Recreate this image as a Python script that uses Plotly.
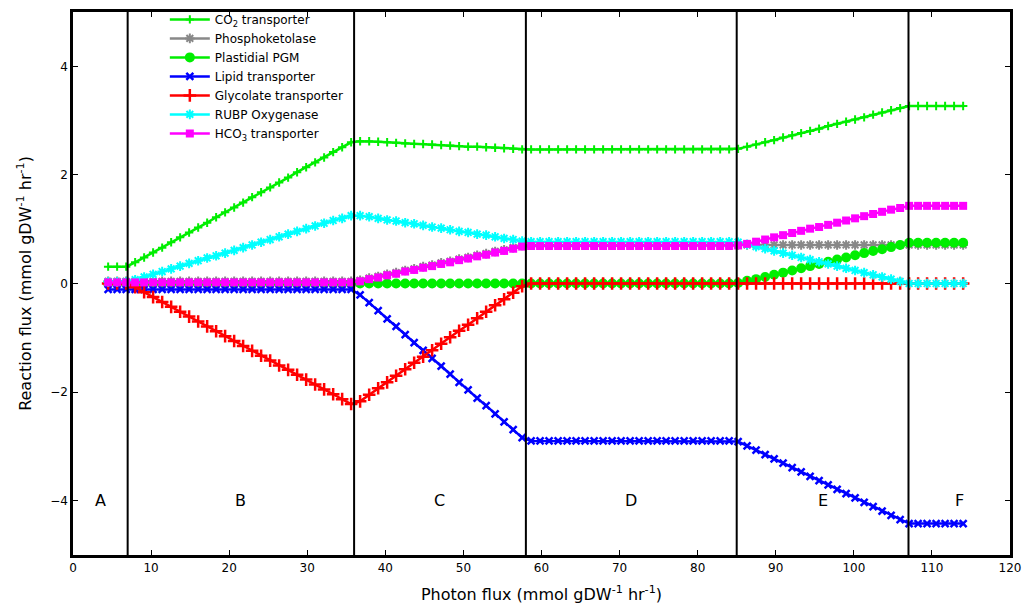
import plotly.graph_objects as go

# ---------------- data ----------------
photon_flux = [
    4.50, 5.65, 6.81, 7.96, 9.11, 10.26, 11.42, 12.57, 13.72, 14.87,
    16.03, 17.18, 18.33, 19.48, 20.64, 21.79, 22.94, 24.09, 25.25, 26.40,
    27.55, 28.70, 29.86, 31.01, 32.16, 33.32, 34.47, 35.62, 36.77, 37.93,
    39.08, 40.23, 41.38, 42.54, 43.69, 44.84, 45.99, 47.15, 48.30, 49.45,
    50.60, 51.76, 52.91, 54.06, 55.21, 56.37, 57.52, 58.67, 59.82, 60.97,
    62.13, 63.28, 64.43, 65.58, 66.74, 67.89, 69.04, 70.19, 71.35, 72.50,
    73.66, 74.81, 75.96, 77.11, 78.27, 79.42, 80.57, 81.72, 82.88, 84.03,
    85.18, 86.33, 87.48, 88.64, 89.79, 90.94, 92.10, 93.25, 94.40, 95.55,
    96.71, 97.86, 99.01, 100.16, 101.32, 102.47, 103.62, 104.77, 105.93, 107.08,
    108.23, 109.38, 110.54, 111.69, 112.84, 114.00,
]

co2_transporter = [
    0.31, 0.31, 0.31, 0.39, 0.48, 0.57, 0.66, 0.76, 0.85, 0.94,
    1.03, 1.12, 1.22, 1.31, 1.40, 1.49, 1.59, 1.68, 1.77, 1.86,
    1.95, 2.05, 2.14, 2.23, 2.32, 2.42, 2.51, 2.60, 2.62, 2.62,
    2.61, 2.60, 2.59, 2.58, 2.57, 2.57, 2.56, 2.55, 2.54, 2.53,
    2.52, 2.52, 2.51, 2.50, 2.49, 2.48, 2.47, 2.47, 2.47, 2.47,
    2.47, 2.47, 2.47, 2.47, 2.47, 2.47, 2.47, 2.47, 2.47, 2.47,
    2.47, 2.47, 2.47, 2.47, 2.47, 2.47, 2.47, 2.47, 2.47, 2.47,
    2.48, 2.52, 2.56, 2.60, 2.64, 2.69, 2.73, 2.77, 2.81, 2.85,
    2.90, 2.94, 2.98, 3.02, 3.06, 3.11, 3.15, 3.19, 3.23, 3.27,
    3.27, 3.27, 3.27, 3.27, 3.27, 3.27,
]

phosphoketolase = [
    0.04, 0.04, 0.04, 0.04, 0.04, 0.04, 0.04, 0.04, 0.04, 0.04,
    0.04, 0.04, 0.04, 0.04, 0.04, 0.04, 0.04, 0.04, 0.04, 0.04,
    0.04, 0.04, 0.04, 0.04, 0.04, 0.04, 0.04, 0.04, 0.06, 0.10,
    0.13, 0.17, 0.20, 0.24, 0.27, 0.31, 0.34, 0.38, 0.41, 0.45,
    0.48, 0.52, 0.55, 0.59, 0.62, 0.66, 0.70, 0.71, 0.71, 0.71,
    0.71, 0.71, 0.71, 0.71, 0.71, 0.71, 0.71, 0.71, 0.71, 0.71,
    0.71, 0.71, 0.71, 0.71, 0.71, 0.71, 0.71, 0.71, 0.71, 0.71,
    0.71, 0.71, 0.71, 0.71, 0.71, 0.71, 0.71, 0.71, 0.71, 0.71,
    0.71, 0.71, 0.71, 0.71, 0.71, 0.71, 0.71, 0.71, 0.71, 0.71,
    0.71, 0.71, 0.71, 0.71, 0.71, 0.71,
]

plastidial_pgm = [
    0.00, 0.00, 0.00, 0.00, 0.00, 0.00, 0.00, 0.00, 0.00, 0.00,
    0.00, 0.00, 0.00, 0.00, 0.00, 0.00, 0.00, 0.00, 0.00, 0.00,
    0.00, 0.00, 0.00, 0.00, 0.00, 0.00, 0.00, 0.00, 0.00, 0.00,
    0.00, 0.00, 0.00, 0.00, 0.00, 0.00, 0.00, 0.00, 0.00, 0.00,
    0.00, 0.00, 0.00, 0.00, 0.00, 0.00, 0.00, 0.00, 0.00, 0.00,
    0.00, 0.00, 0.00, 0.00, 0.00, 0.00, 0.00, 0.00, 0.00, 0.00,
    0.00, 0.00, 0.00, 0.00, 0.00, 0.00, 0.00, 0.00, 0.00, 0.00,
    0.01, 0.05, 0.08, 0.12, 0.16, 0.20, 0.24, 0.28, 0.32, 0.36,
    0.40, 0.44, 0.48, 0.52, 0.56, 0.60, 0.63, 0.67, 0.71, 0.75,
    0.75, 0.75, 0.75, 0.75, 0.75, 0.75,
]

lipid_transporter = [
    -0.11, -0.11, -0.11, -0.11, -0.11, -0.11, -0.11, -0.11, -0.11, -0.11,
    -0.11, -0.11, -0.11, -0.11, -0.11, -0.11, -0.11, -0.11, -0.11, -0.11,
    -0.11, -0.11, -0.11, -0.11, -0.11, -0.11, -0.11, -0.11, -0.21, -0.35,
    -0.50, -0.65, -0.79, -0.94, -1.09, -1.23, -1.38, -1.52, -1.67, -1.82,
    -1.96, -2.11, -2.25, -2.40, -2.55, -2.69, -2.84, -2.90, -2.90, -2.90,
    -2.90, -2.90, -2.90, -2.90, -2.90, -2.90, -2.90, -2.90, -2.90, -2.90,
    -2.90, -2.90, -2.90, -2.90, -2.90, -2.90, -2.90, -2.90, -2.90, -2.90,
    -2.91, -2.99, -3.07, -3.15, -3.23, -3.31, -3.39, -3.47, -3.55, -3.63,
    -3.71, -3.79, -3.87, -3.95, -4.03, -4.11, -4.19, -4.27, -4.35, -4.42,
    -4.42, -4.42, -4.42, -4.42, -4.42, -4.42,
]

glycolate_transporter = [
    0.00, 0.00, 0.00, -0.07, -0.16, -0.25, -0.34, -0.43, -0.52, -0.61,
    -0.70, -0.79, -0.88, -0.97, -1.06, -1.15, -1.24, -1.33, -1.42, -1.51,
    -1.59, -1.68, -1.77, -1.86, -1.95, -2.04, -2.13, -2.22, -2.17, -2.05,
    -1.93, -1.82, -1.70, -1.58, -1.46, -1.35, -1.23, -1.11, -0.99, -0.87,
    -0.76, -0.64, -0.52, -0.40, -0.29, -0.17, -0.05, 0.00, 0.00, 0.00,
    0.00, 0.00, 0.00, 0.00, 0.00, 0.00, 0.00, 0.00, 0.00, 0.00,
    0.00, 0.00, 0.00, 0.00, 0.00, 0.00, 0.00, 0.00, 0.00, 0.00,
    0.00, 0.00, 0.00, 0.00, 0.00, 0.00, 0.00, 0.00, 0.00, 0.00,
    0.00, 0.00, 0.00, 0.00, 0.00, 0.00, 0.00, 0.00, 0.00, 0.00,
    0.00, 0.00, 0.00, 0.00, 0.00, 0.00,
]

rubp_oxygenase = [
    0.03, 0.03, 0.03, 0.07, 0.12, 0.17, 0.22, 0.27, 0.32, 0.37,
    0.42, 0.47, 0.51, 0.56, 0.61, 0.66, 0.71, 0.76, 0.81, 0.86,
    0.91, 0.96, 1.01, 1.06, 1.11, 1.16, 1.20, 1.25, 1.25, 1.23,
    1.20, 1.17, 1.15, 1.12, 1.10, 1.07, 1.04, 1.02, 0.99, 0.96,
    0.94, 0.91, 0.89, 0.86, 0.83, 0.81, 0.78, 0.77, 0.77, 0.77,
    0.77, 0.77, 0.77, 0.77, 0.77, 0.77, 0.77, 0.77, 0.77, 0.77,
    0.77, 0.77, 0.77, 0.77, 0.77, 0.77, 0.77, 0.77, 0.77, 0.77,
    0.76, 0.72, 0.68, 0.64, 0.60, 0.56, 0.52, 0.48, 0.44, 0.40,
    0.36, 0.32, 0.28, 0.24, 0.20, 0.16, 0.12, 0.08, 0.04, 0.00,
    0.00, 0.00, 0.00, 0.00, 0.00, 0.00,
]

hco3_transporter = [
    0.02, 0.02, 0.02, 0.02, 0.02, 0.02, 0.02, 0.02, 0.02, 0.02,
    0.02, 0.02, 0.02, 0.02, 0.02, 0.02, 0.02, 0.02, 0.02, 0.02,
    0.02, 0.02, 0.02, 0.02, 0.02, 0.02, 0.02, 0.02, 0.04, 0.08,
    0.11, 0.15, 0.18, 0.22, 0.25, 0.29, 0.32, 0.36, 0.39, 0.43,
    0.46, 0.50, 0.53, 0.57, 0.60, 0.64, 0.68, 0.69, 0.69, 0.69,
    0.69, 0.69, 0.69, 0.69, 0.69, 0.69, 0.69, 0.69, 0.69, 0.69,
    0.69, 0.69, 0.69, 0.69, 0.69, 0.69, 0.69, 0.69, 0.69, 0.69,
    0.70, 0.73, 0.77, 0.81, 0.85, 0.89, 0.93, 0.97, 1.01, 1.04,
    1.08, 1.12, 1.16, 1.20, 1.24, 1.28, 1.32, 1.36, 1.39, 1.43,
    1.43, 1.43, 1.43, 1.43, 1.43, 1.43,
]

region_bounds = [7, 36, 58, 85, 107]
region_labels = ["A", "B", "C", "D", "E", "F"]
region_centers = [3.5, 21.5, 47, 71.5, 96, 113.5]
region_label_y = -4.0

x_ticks = [0, 10, 20, 30, 40, 50, 60, 70, 80, 90, 100, 110, 120]
y_ticks = [-4, -2, 0, 2, 4]

# ---------------- figure ----------------
FONT = "DejaVu Sans"

series = [
    ("CO<sub>2</sub> transporter", co2_transporter, "#00ee00", "cross-thin-open", 6, 2),
    ("Phosphoketolase", phosphoketolase, "#888888", "asterisk-open", 8, 2),
    ("Plastidial PGM", plastidial_pgm, "#00ee00", "circle", 10, 0),
    ("Lipid transporter", lipid_transporter, "#0000ff", "x-thin-open", 7, 2.5),
    ("Glycolate transporter", glycolate_transporter, "#ff0000", "cross-thin-open", 9, 2.5),
    ("RUBP Oxygenase", rubp_oxygenase, "#00ffff", "asterisk-open", 8, 2),
    ("HCO<sub>3</sub> transporter", hco3_transporter, "#ff00ff", "square", 8, 0),
]

fig = go.Figure()
for name, vals, color, sym, size, mlw in series:
    fig.add_trace(go.Scatter(
        x=photon_flux, y=vals, name=name, mode="lines+markers",
        line=dict(color=color, width=2.5),
        marker=dict(symbol=sym, size=size, color=color,
                    line=dict(color=color, width=mlw)),
    ))

for b in region_bounds:
    fig.add_shape(type="line", x0=b, x1=b, xref="x", yref="paper", y0=0, y1=1,
                  line=dict(color="black", width=2))

for lab, cx in zip(region_labels, region_centers):
    fig.add_annotation(x=cx, y=region_label_y, text=lab, showarrow=False,
                       font=dict(family=FONT, size=16, color="black"))

fig.update_layout(
    width=1028, height=611,
    margin=dict(l=73, r=18, t=12, b=56, autoexpand=False),
    paper_bgcolor="white", plot_bgcolor="white",
    font=dict(family=FONT, size=13, color="black"),
    showlegend=True,
    legend=dict(x=0.098, y=0.992, xanchor="left", yanchor="top",
                yref="container",
                bgcolor="rgba(0,0,0,0)", borderwidth=0,
                font=dict(family=FONT, size=12, color="black"),
                itemwidth=40, tracegroupgap=0),
)
fig.update_xaxes(
    range=[0, 120], tickvals=x_ticks, showgrid=False, zeroline=False,
    showline=True, linecolor="black", linewidth=2.5, mirror="ticks",
    ticks="inside", ticklen=5, tickwidth=1, tickcolor="black",
    tickfont=dict(family=FONT, size=12, color="black"),
    automargin=False,
    title=dict(text="Photon flux (mmol gDW<sup>-1</sup> hr<sup>-1</sup>)",
               font=dict(family=FONT, size=16, color="black")),
)
fig.update_yaxes(
    range=[-5, 5], tickvals=y_ticks, showgrid=False, zeroline=False,
    showline=True, linecolor="black", linewidth=2.5, mirror="ticks",
    ticks="inside", ticklen=5, tickwidth=1, tickcolor="black",
    tickfont=dict(family=FONT, size=12, color="black"),
    automargin=False,
    title=dict(text="Reaction flux (mmol gDW<sup>-1</sup> hr<sup>-1</sup>)",
               font=dict(family=FONT, size=16, color="black")),
)

fig.write_html("out.html", config={"displayModeBar": False},
               post_script="document.body.style.margin='0px';")
